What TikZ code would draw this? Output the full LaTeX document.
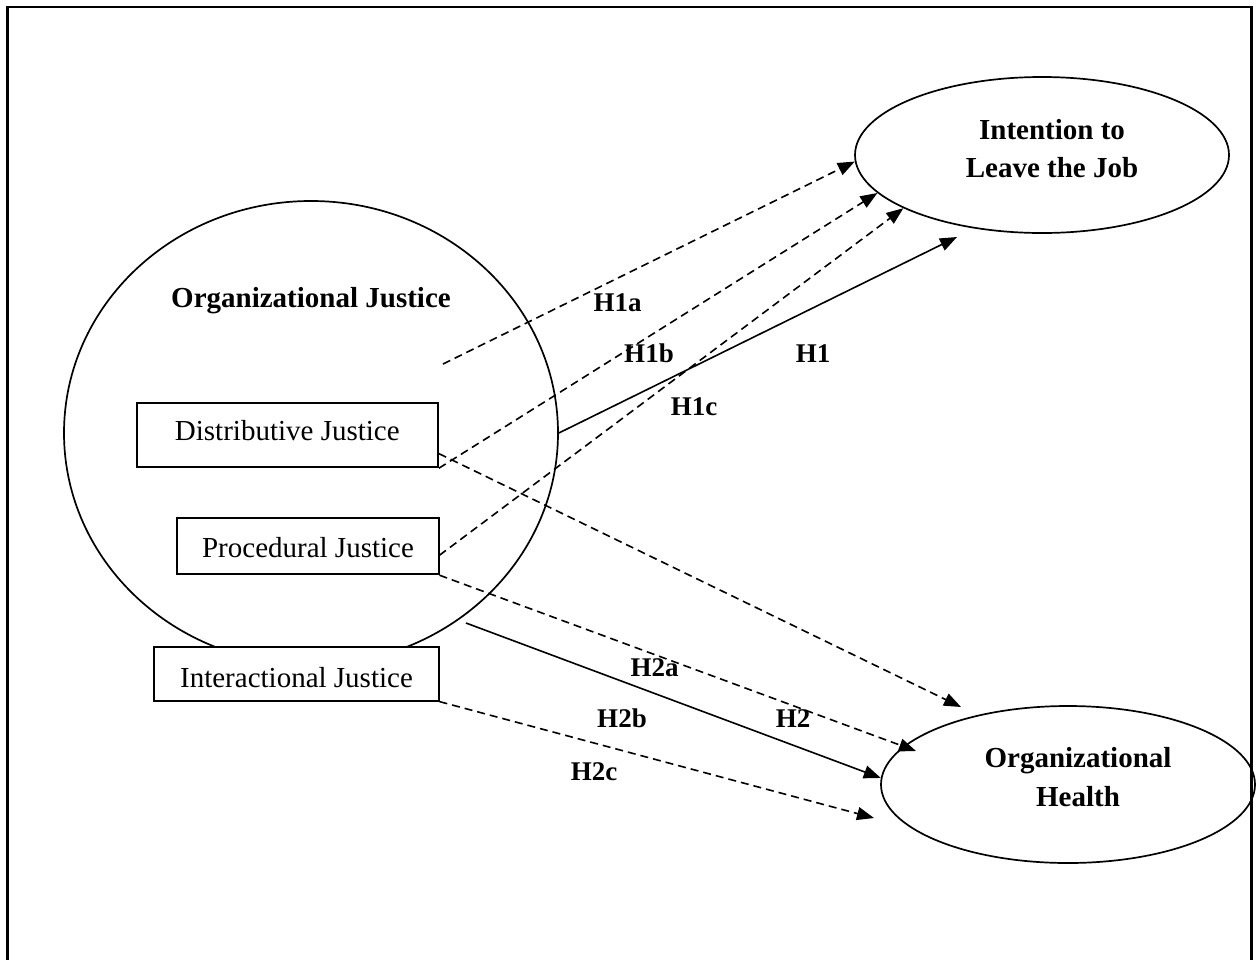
\documentclass[tikz,border=0pt]{standalone}
\usepackage{fontspec}
\setmainfont{Liberation Serif}
\usetikzlibrary{arrows.meta,shapes.geometric}
\begin{document}
\begin{tikzpicture}[x=1pt,y=-1pt,
  bigfont/.style={font=\fontsize{29}{34}\selectfont\bfseries},
  boxfont/.style={font=\fontsize{29}{34}\selectfont},
  hyp/.style={font=\fontsize{27}{32}\selectfont\bfseries, inner sep=0pt, anchor=base},
  txt/.style={inner sep=0pt, anchor=base},
  construct/.style={draw, ellipse, line width=1.7pt, inner sep=0pt},
  dimbox/.style={draw, rectangle, fill=white, line width=1.8pt, inner sep=0pt},
  link/.style={line width=1.6pt, -{Triangle[length=17pt,width=13pt]}},
  dlink/.style={link, dash pattern=on 8pt off 5pt}]
\useasboundingbox (0,0) rectangle (1258,959);
% frame (bottom edge lies outside the picture)
\begin{scope}
\clip (0,0) rectangle (1258,959);
\draw[line width=2.2pt] (7.5,975) -- (7.5,7) -- (1251.5,7) -- (1251.5,975);
\end{scope}

% organizational justice circle
\node[construct, minimum width=494pt, minimum height=464pt] (oj) at (311,433) {};
\node[txt, bigfont] (ojt) at (311,307) {Organizational Justice};

% dimension boxes
\node[dimbox, minimum width=301.4pt, minimum height=64.6pt] (dj) at (287.3,435) {};
\node[txt, boxfont] (djt) at (287.3,440) {Distributive Justice};
\node[dimbox, minimum width=261.8pt, minimum height=56.6pt] (pj) at (307.7,546) {};
\node[txt, boxfont] (pjt) at (308,557) {Procedural Justice};
\node[dimbox, minimum width=284.8pt, minimum height=53.4pt] (ij) at (296.2,674) {};
\node[txt, boxfont] (ijt) at (296.5,687) {Interactional Justice};

% outcome ellipses
\node[construct, minimum width=374pt, minimum height=156pt] (ilj) at (1042,155) {};
\node[txt, bigfont] (ilj1) at (1052,139) {Intention to};
\node[txt, bigfont] (ilj2) at (1052,177) {Leave the Job};
\node[construct, minimum width=374pt, minimum height=157pt] (oh) at (1068,784.5) {};
\node[txt, bigfont] (oh1) at (1078,767) {Organizational};
\node[txt, bigfont] (oh2) at (1078,806) {Health};

% free ends
\coordinate (h1as) at (443,364);
\coordinate (h1e) at (957,237);
\coordinate (h2s) at (466,623);
\coordinate (h2ae) at (961,707);
\coordinate (h2be) at (916,751);
\coordinate (h2ce) at (874,818);

% hypotheses to Intention to Leave the Job
\draw[dlink] (h1as) -- (ilj.182.4);
\draw[dlink] (dj.south east) -- (ilj.193.2);
\draw[dlink] (pj.-4.8) -- (ilj.201.7);
\draw[link] (oj.east) -- (h1e);

% hypotheses to Organizational Health
\draw[dlink] (dj.-7.2) -- (h2ae);
\draw[dlink] (pj.south east) -- (h2be);
\draw[link] (h2s) -- (oh.178);
\draw[dlink] (ij.south east) -- (h2ce);

% labels
\node[hyp] (l1a) at (617.5,311) {H1a};
\node[hyp] (l1b) at (649,362.5) {H1b};
\node[hyp] (l1) at (813,362.5) {H1};
\node[hyp] (l1c) at (694,415) {H1c};
\node[hyp] (l2a) at (654.5,676) {H2a};
\node[hyp] (l2b) at (622,727) {H2b};
\node[hyp] (l2) at (793,727) {H2};
\node[hyp] (l2c) at (594,780) {H2c};
\end{tikzpicture}
\end{document}
